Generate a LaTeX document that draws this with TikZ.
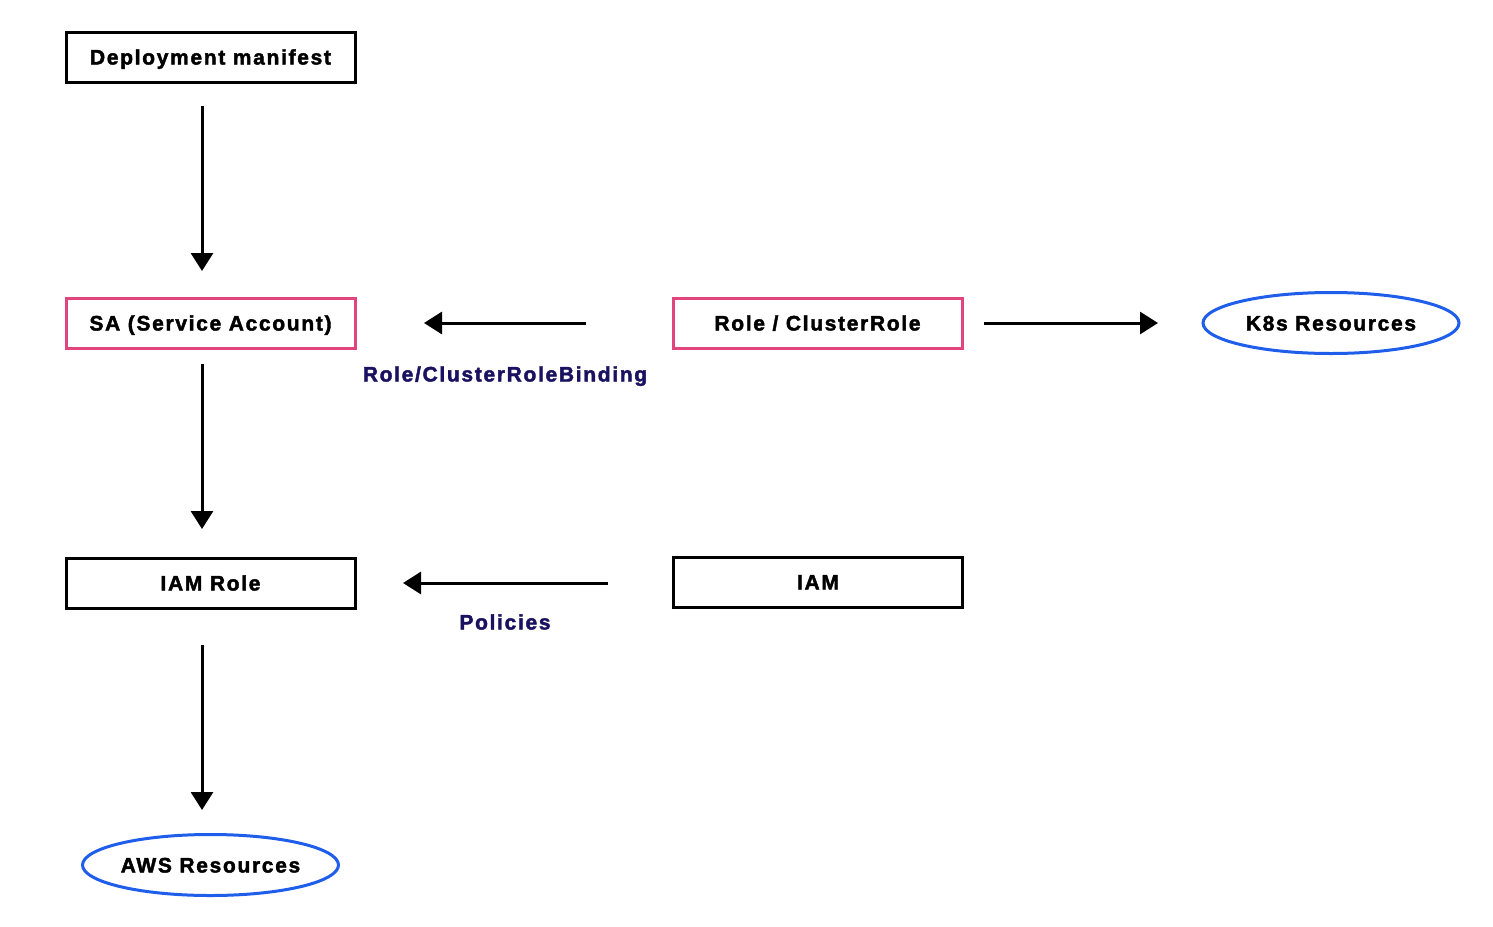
\documentclass[tikz,border=0pt]{standalone}
\usepackage{fontspec}
\setmainfont{Liberation Sans}[LetterSpace=8, BoldFeatures={FakeBold=2}]
\usetikzlibrary{arrows.meta,shapes.geometric}
\definecolor{pinkc}{HTML}{E2447C}
\definecolor{bluec}{HTML}{1E5EEA}
\definecolor{navyc}{HTML}{1A1260}
\tikzset{
  txt/.style={font=\fontsize{21}{24}\selectfont\bfseries, text height=15pt, text depth=0pt},
  box/.style={txt, draw=black, line width=3pt, minimum width=289pt, minimum height=50pt, inner sep=0pt},
  pinkbox/.style={box, draw=pinkc},
  oval/.style={txt, ellipse, draw=bluec, line width=3pt, minimum width=256pt, minimum height=61pt, inner sep=0pt},
  conn/.style={line width=3pt, -{Triangle[length=18pt,width=22pt]}},
  lbl/.style={txt, text=navyc, inner sep=0pt}
}
\begin{document}
\begin{tikzpicture}[x=1pt,y=-1pt]
\useasboundingbox (0,0) rectangle (1493,926);
\fill[white] (0,0) rectangle (1493,926);
\node[box] (dep) at (210.5,57) {Deployment manifest};
\node[pinkbox] (sa) at (210.5,323) {SA (Service Account)};
\node[box] (iamrole) at (210.5,583) {IAM Role};
\node[pinkbox] (role) at (817.5,323) {Role / ClusterRole};
\node[box] (iam) at (818,582) {IAM};
\node[oval] (k8s) at (1331,323) {K8s Resources};
\node[oval] (aws) at (210.5,865) {AWS Resources};
\coordinate (a1s) at (202,106); \coordinate (a1e) at (202,271);
\coordinate (a2s) at (202,364); \coordinate (a2e) at (202,529);
\coordinate (a3s) at (202,645); \coordinate (a3e) at (202,810);
\coordinate (b1s) at (586,323); \coordinate (b1e) at (424,323);
\coordinate (b2s) at (984,323); \coordinate (b2e) at (1158,323);
\coordinate (b3s) at (608,583); \coordinate (b3e) at (403,583);
\draw[conn] (a1s) -- (a1e);
\draw[conn] (a2s) -- (a2e);
\draw[conn] (a3s) -- (a3e);
\draw[conn] (b1s) -- (b1e);
\draw[conn] (b2s) -- (b2e);
\draw[conn] (b3s) -- (b3e);
\node[lbl] (l1) at (505,374) {Role/ClusterRoleBinding};
\node[lbl] (l2) at (505,622) {Policies};
\end{tikzpicture}
\end{document}
